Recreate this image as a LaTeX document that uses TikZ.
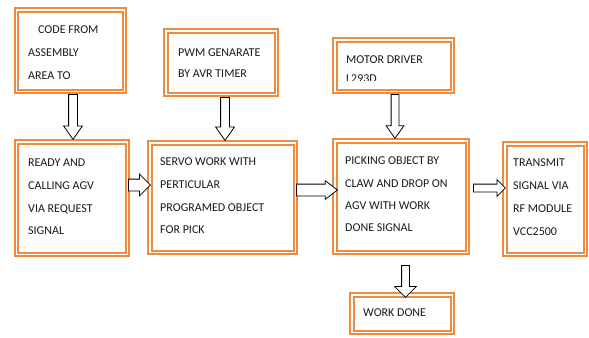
\documentclass[tikz,border=0pt]{standalone}
\usepackage{fontspec}
\setmainfont{Carlito}
\usetikzlibrary{shapes.arrows,calc}
\definecolor{boxorange}{RGB}{240,138,62}
\definecolor{txt}{RGB}{25,25,35}
\begin{document}
\begin{tikzpicture}[x=1bp,y=-1bp,
  box/.style={draw=boxorange,line width=2bp,double=white,double distance=1.5bp,
    outer sep=2.75bp,inner sep=0pt,fill=white},
  lbl/.style={anchor=west,align=left,inner sep=0pt,text=txt,
    font=\fontsize{12bp}{#1}\selectfont},
  lbl/.default=23bp,
  blk/.style={single arrow,draw=black,fill=white,line width=0.8bp,
    single arrow head indent=0pt},
  varrow/.style={blk,shape border rotate=270,inner xsep=4bp,inner ysep=0pt,
    single arrow head extend=5bp,single arrow tip angle=70},
  harrow/.style={blk,shape border rotate=0,inner ysep=5.5bp,inner xsep=0pt,
    single arrow head extend=5bp,single arrow tip angle=90}
]
\useasboundingbox (0,0) rectangle (589,337);

% boxes
\node[box,minimum width=107.5bp,minimum height=81.5bp] (b1) at (70.5,50.5) {};
\node[box,minimum width=110.5bp,minimum height=63.5bp] (b2) at (221,62.5) {};
\node[box,minimum width=117.5bp,minimum height=51.5bp] (b3) at (393.5,65.5) {};
\node[box,minimum width=110.5bp,minimum height=112.5bp] (b4) at (72,198) {};
\node[box,minimum width=145.5bp,minimum height=109.5bp] (b5) at (222.5,197.5) {};
\node[box,minimum width=132.5bp,minimum height=111.5bp] (b6) at (401,196.5) {};
\node[box,minimum width=80.5bp,minimum height=110.5bp] (b7) at (545,199) {};
\node[box,minimum width=100.5bp,minimum height=37.5bp] (b8) at (402,313.5) {};

% texts
\node[lbl] (t1) at (28,53) {\hspace*{10bp}CODE FROM\\ASSEMBLY\\AREA TO};
\node[lbl=21bp] (t2) at (178,63.5) {PWM GENARATE\\BY AVR TIMER};
\begin{scope}
  \clip (330,30) rectangle (460,80);
  \node[lbl=19bp] (t3) at (346,69.5) {MOTOR DRIVER\\L293D};
\end{scope}
\node[lbl=22.7bp] (t4) at (28,197) {READY AND\\CALLING AGV\\VIA REQUEST\\SIGNAL};
\node[lbl=22.7bp] (t5) at (160,196) {SERVO WORK WITH\\PERTICULAR\\PROGRAMED OBJECT\\FOR PICK};
\node[lbl=22.3bp] (t6) at (345,194.5) {PICKING OBJECT BY\\CLAW AND DROP ON\\AGV WITH WORK\\DONE SIGNAL};
\node[lbl=23bp] (t7) at (513,197.25) {TRANSMIT\\SIGNAL VIA\\RF MODULE\\VCC2500};
\node[lbl] (t8) at (363,313) {WORK DONE};

% block arrows
\node[varrow,minimum height=45bp,anchor=tail] (a1) at ($(b1.south)+(2.5,0)$) {};
\node[varrow,minimum height=43bp,anchor=tail] (a2) at ($(b2.south)+(4,0)$) {};
\node[varrow,inner xsep=3.5bp,minimum height=44bp,anchor=tail] (a3) at ($(b3.south)+(1.5,0)$) {};
\node[varrow,inner xsep=3.5bp,single arrow head extend=7bp,single arrow tip angle=90,
      minimum height=32bp,anchor=tail] (a7) at ($(b6.south)+(4.5,10)$) {};
\node[harrow,minimum height=22bp,anchor=tail] (a4) at ($(b4.east)+(-2,-13)$) {};
\node[harrow,minimum height=41bp,single arrow head extend=3.5bp,
      single arrow tip angle=75,anchor=tail] (a5) at ($(b5.east)+(-2,-7.5)$) {};
\node[harrow,inner ysep=3.5bp,minimum height=32bp,single arrow head extend=4.5bp,
      anchor=tail] (a6) at ($(b6.east)+(3,-8.5)$) {};
\end{tikzpicture}
\end{document}
